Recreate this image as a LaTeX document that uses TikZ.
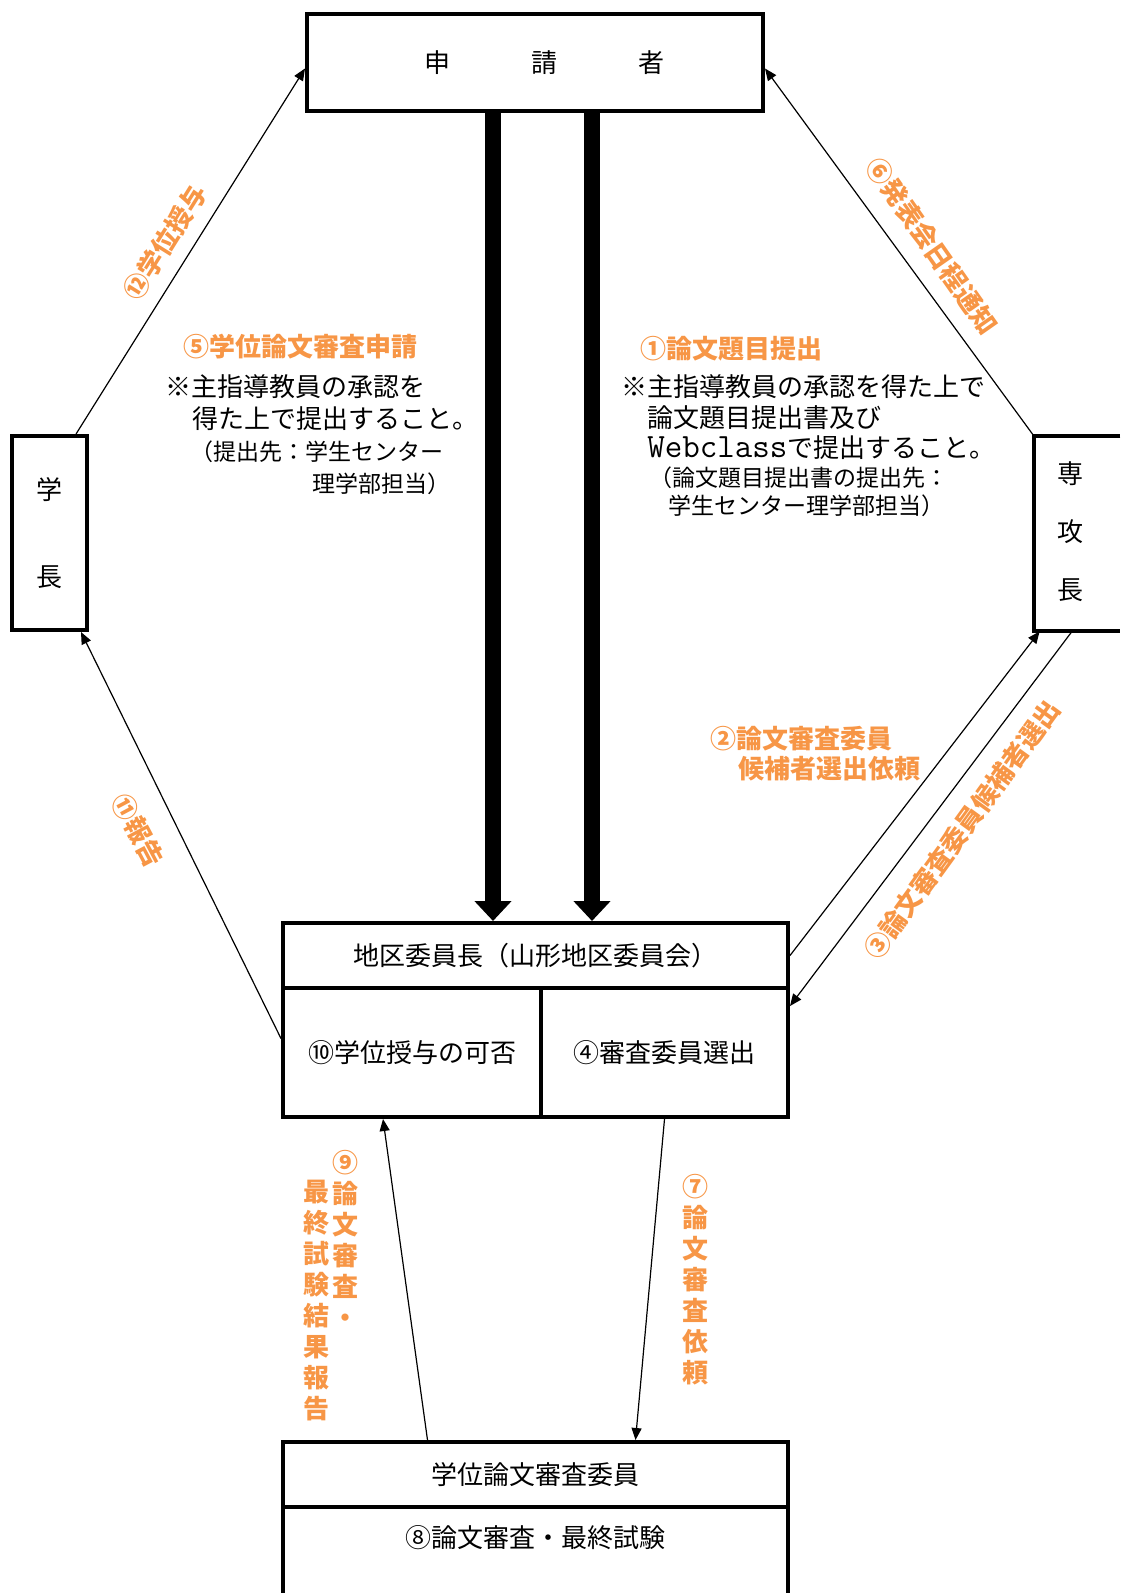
\documentclass[tikz,border=0pt]{standalone}
\usepackage{fontspec}
\usepackage{tikz}
\usetikzlibrary{arrows.meta}

\newfontfamily\jp{Noto Sans CJK JP}
\definecolor{labelorange}{RGB}{247,150,70}

\tikzset{
  box/.style={draw, line width=2pt, inner sep=0pt, font=\jp\fontsize{13pt}{15pt}\selectfont},
  openbox/.style={draw=none, inner sep=0pt},
  border/.style={line width=2pt},
  flow/.style={line width=8pt, -{Triangle[width=18pt,length=10pt]}},
  link/.style={line width=0.6pt, -{Triangle[width=5pt,length=6pt]}},
  notetext/.style={inner sep=0pt, anchor=west, font=\jp\fontsize{13pt}{15pt}\selectfont},
  smallnote/.style={inner sep=0pt, anchor=west, font=\jp\fontsize{11.5pt}{14pt}\selectfont},
  orangetag/.style={text=labelorange, inner sep=0pt, font=\jp\bfseries\fontsize{13pt}{15pt}\selectfont},
  columntag/.style={orangetag, align=center, font=\jp\bfseries\fontsize{13pt}{15.5pt}\selectfont}
}

\begin{document}
\begin{tikzpicture}[x=0.5pt,y=-0.5pt]
    \useasboundingbox (0,0) rectangle (1120,1593);

    % boxes
    \node[box, minimum width=228pt, minimum height=48.5pt](shinsei)at(535,62.5)
        {\hspace{9pt}申\hspace{40.5pt}請\hspace{40.5pt}者};
    \node[box, minimum width=37.5pt, minimum height=97pt, align=center,
          font=\jp\fontsize{13pt}{43.5pt}\selectfont](gakucho)at(49.5,533){学\\長};

    % the right box runs off the page
    \node[openbox, minimum width=43pt, minimum height=97.5pt](senkou)at(1077,533.5){};
    \draw[border] (senkou.north east) -- (senkou.north west) -- (senkou.south west) -- (senkou.south east);
    \node[inner sep=0pt, align=center, font=\jp\fontsize{13pt}{29pt}\selectfont](senkoutxt)
        at(1070,532){専\\攻\\長};

    \node[box, minimum width=252.5pt, minimum height=32.5pt](chiku)at(535.5,955.5)
        {地区委員長（山形地区委員会）};
    \node[box, minimum width=129pt, minimum height=64.5pt](kahi)at(412,1052.5)
        {⑩学位授与の可否};
    \node[box, minimum width=123.5pt, minimum height=64.5pt](senshutsu)at(664.5,1052.5)
        {④審査委員選出};

    \node[box, minimum width=252.5pt, minimum height=32.5pt](iin)at(535.5,1474.5)
        {学位論文審査委員};
    % the bottom box runs off the page
    \node[openbox, minimum width=252.5pt, minimum height=43pt](shiken)at(535.5,1550){};
    \draw[border] (shiken.south west) -- (shiken.north west) -- (shiken.north east) -- (shiken.south east);
    \node[inner sep=0pt, font=\jp\fontsize{13pt}{15pt}\selectfont](shikentxt)
        at(535.5,1538){⑧論文審査・最終試験};

    % thick arrows
    \draw[flow] ([xshift=-21pt]shinsei.south) to ([xshift=-21.25pt]chiku.north);
    \draw[flow] ([xshift=28.5pt]shinsei.south) to ([xshift=28.25pt]chiku.north);

    % thin arrows
    \draw[link] (gakucho.75) to ([yshift=-3pt]shinsei.west);
    \draw[link] (senkou.north west) to ([yshift=-3pt]shinsei.east);
    \draw[link] (chiku.east) to ([xshift=3pt]senkou.south west);
    \draw[link] ([xshift=-2.5pt]senkou.south) to ([yshift=-10pt]senshutsu.north east);
    \draw[link] ([yshift=7pt]kahi.west) to ([xshift=-4pt]gakucho.south east);
    \draw[link] (senshutsu.south) to ([xshift=50pt]iin.north);
    \draw[link] ([xshift=-54pt]iin.north) to ([xshift=-14.5pt]kahi.south);

    % orange labels
    \node[orangetag, rotate=58](l12)at(165,242){⑫学位授与};
    \node[orangetag, rotate=-55](l6)at(932,246){⑥発表会日程通知};
    \node[orangetag, rotate=54](l3)at(962,830){③論文審査委員候補者選出};
    \node[orangetag, rotate=-62](l11)at(138,830){⑪報告};
    \node[orangetag, anchor=west](l5)at(183,347){⑤学位論文審査申請};
    \node[orangetag, anchor=west](l1)at(640,349){①論文題目提出};
    \node[orangetag, anchor=west](l2a)at(710,739){②論文審査委員};
    \node[orangetag, anchor=west](l2b)at(738,769){候補者選出依頼};
    \node[columntag](l9a)at(345,1239){⑨\\論\\文\\審\\査\\・};
    \node[columntag](l9b)at(316,1300.5){最\\終\\試\\験\\結\\果\\報\\告};
    \node[columntag](l7)at(695,1280){⑦\\論\\文\\審\\査\\依\\頼};

    % notes
    \node[notetext](n5a)at(165,387){※主指導教員の承認を};
    \node[notetext](n5b)at(192,419){得た上で提出すること。};
    \node[smallnote](n5c)at(190,452){（提出先：学生センター};
    \node[smallnote](n5d)at(312,484){理学部担当）};

    \node[notetext](n1a)at(621,387){※主指導教員の承認を得た上で};
    \node[notetext](n1b)at(647,418){論文題目提出書及び};
    \node[notetext](n1c)at(647,448){{\ttfamily\fontsize{17pt}{17pt}\selectfont Webclass}で提出すること。};
    \node[smallnote](n1d)at(649,478){（論文題目提出書の提出先：};
    \node[smallnote](n1e)at(668,506){学生センター理学部担当）};
  \end{tikzpicture}
\end{document}
